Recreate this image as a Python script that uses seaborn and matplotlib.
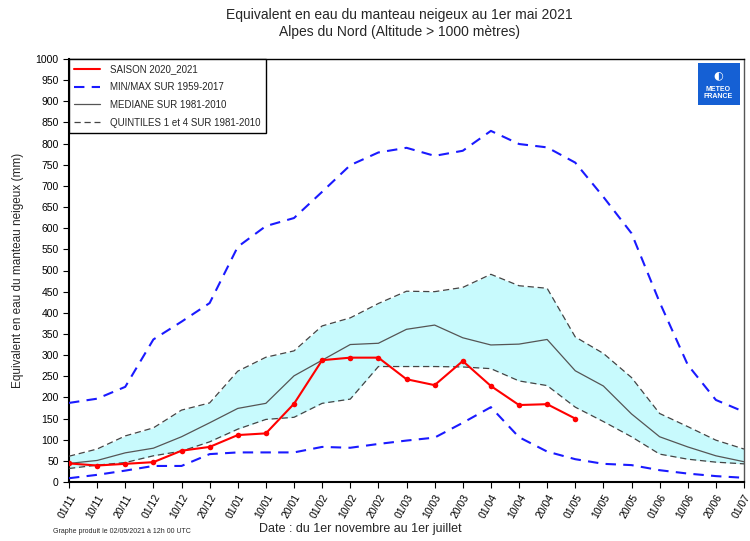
import numpy as np
import pandas as pd
import matplotlib
matplotlib.use("Agg")
import matplotlib.pyplot as plt
import seaborn as sns
from matplotlib.patches import Rectangle

# dates (x axis) : du 1er novembre au 1er juillet
dates = ["01/11", "10/11", "20/11", "01/12", "10/12", "20/12", "01/01", "10/01", "20/01",
         "01/02", "10/02", "20/02", "01/03", "10/03", "20/03", "01/04", "10/04", "20/04",
         "01/05", "10/05", "20/05", "01/06", "10/06", "20/06", "01/07"]

maxi = [187, 197, 225, 337, 379, 423, 556, 605, 624, 686, 749, 779, 790, 771, 783, 830,
        799, 791, 755, 674, 588, 425, 277, 194, 166]
mini = [9, 17, 27, 38, 38, 66, 70, 70, 70, 83, 81, 90, 98, 105, 140, 177,
        106, 72, 54, 43, 40, 28, 20, 14, 10]
q4 = [61, 78, 109, 128, 170, 187, 262, 295, 310, 369, 388, 422, 451, 450, 460, 491,
      464, 458, 343, 304, 247, 162, 131, 99, 78]
q1 = [32, 40, 46, 62, 73, 95, 125, 148, 153, 186, 196, 273, 273, 273, 272, 268,
      239, 228, 177, 143, 107, 66, 54, 47, 43]
mediane = [44, 51, 69, 80, 107, 140, 174, 186, 251, 288, 325, 328, 361, 371, 341, 324,
           326, 337, 263, 227, 161, 107, 83, 62, 48]
saison = [44, 39, 43, 47, 74, 83, 111, 115, 185, 288, 294, 294, 243, 229, 286, 227,
          182, 184, 150]

x = np.arange(len(dates))
df = pd.DataFrame({"x": x, "maxi": maxi, "mini": mini, "q1": q1, "q4": q4, "med": mediane})
df_saison = pd.DataFrame({"x": x[:len(saison)], "val": saison})

sns.set_theme(style="ticks")
plt.rcParams['font.family'] = ['Liberation Sans', 'DejaVu Sans']

fig = plt.figure(figsize=(7.5, 5.41), dpi=100)
ax = fig.add_axes([0.092, 0.109, 0.9, 0.782])

ax.fill_between(df["x"], df["q1"], df["q4"], color="#c8fafd", lw=0, zorder=1)

sns.lineplot(data=df_saison, x="x", y="val", ax=ax, color="#ff0000", lw=1.5,
             marker="o", markersize=4, markeredgewidth=0, label="SAISON 2020_2021", zorder=5)
sns.lineplot(data=df, x="x", y="maxi", ax=ax, color="#1a1aff", lw=1.5,
             label="MIN/MAX SUR 1959-2017", zorder=4)
ax.lines[-1].set_dashes((5, 3.5))
sns.lineplot(data=df, x="x", y="mini", ax=ax, color="#1a1aff", lw=1.5, zorder=4)
ax.lines[-1].set_dashes((5, 3.5))
sns.lineplot(data=df, x="x", y="med", ax=ax, color="#555555", lw=0.9,
             label="MEDIANE SUR 1981-2010", zorder=3)
sns.lineplot(data=df, x="x", y="q4", ax=ax, color="#444444", lw=0.9,
             label="QUINTILES 1 et 4 SUR 1981-2010", zorder=3)
ax.lines[-1].set_dashes((5, 3))
sns.lineplot(data=df, x="x", y="q1", ax=ax, color="#444444", lw=0.9, zorder=3)
ax.lines[-1].set_dashes((5, 3))

ax.set_xlim(0, len(dates) - 1)
ax.set_ylim(0, 1000)
ax.set_yticks(np.arange(0, 1001, 50))
ax.set_xticks(x)
ax.set_xticklabels(dates, rotation=60, ha="right", rotation_mode="anchor", fontsize=7.5)
ax.tick_params(axis="y", labelsize=7.5, length=4, width=0.8, colors="black")
ax.tick_params(axis="x", length=4, width=0.8, colors="black")
for s in ax.spines.values():
    s.set_color("black")
    s.set_linewidth(1.0)
ax.spines["left"].set_linewidth(1.5)
ax.spines["bottom"].set_linewidth(1.5)
ax.spines["right"].set_color("#555555")

ax.set_xlabel("")
ax.set_ylabel("Equivalent en eau du manteau neigeux (mm)", fontsize=8.5, labelpad=8)

leg = ax.legend(loc="upper left", fontsize=7, frameon=True, fancybox=False,
                edgecolor="black", framealpha=1, borderaxespad=0.0, handlelength=2.6,
                labelspacing=0.8, borderpad=0.55, handletextpad=1.1)
leg.get_frame().set_linewidth(1.0)
leg.set_zorder(10)
leg.legend_handles[0].set_marker("")

fig.text(0.533, 0.972, "Equivalent en eau du manteau neigeux au 1er mai 2021",
         ha="center", va="center", fontsize=10)
fig.text(0.533, 0.941, "Alpes du Nord (Altitude > 1000 mètres)",
         ha="center", va="center", fontsize=10)
fig.text(0.48, 0.022, "Date : du 1er novembre au 1er juillet", ha="center", va="center",
         fontsize=9)
fig.text(0.07, 0.017, "Graphe produit le 02/05/2021 à 12h 00 UTC", ha="left", va="center",
         fontsize=5)

# logo
logo = Rectangle((0.93, 0.806), 0.056, 0.078, transform=fig.transFigure,
                 facecolor="#1560d4", edgecolor="none", zorder=11)
fig.patches.append(logo)
fig.text(0.958, 0.860, "◐", color="white", ha="center", va="center", fontsize=8,
         weight="bold", family=["DejaVu Sans"], zorder=12)
fig.text(0.958, 0.829, "METEO\nFRANCE", color="white", ha="center", va="center",
         fontsize=5, weight="bold", linespacing=1.0, zorder=12)

fig.savefig("out.png", dpi=100)
